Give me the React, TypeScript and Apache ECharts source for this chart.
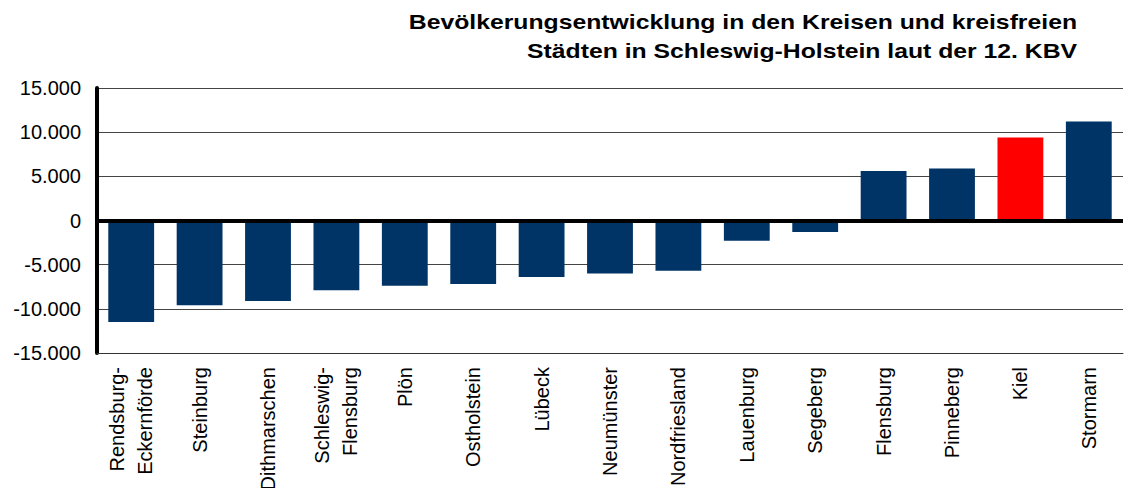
import React, { useEffect, useRef } from "react";
import * as echarts from "echarts";

const categories: string[] = [
  "Rendsburg-\nEckernförde",
  "Steinburg",
  "Dithmarschen",
  "Schleswig-\nFlensburg",
  "Plön",
  "Ostholstein",
  "Lübeck",
  "Neumünster",
  "Nordfriesland",
  "Lauenburg",
  "Segeberg",
  "Flensburg",
  "Pinneberg",
  "Kiel",
  "Stormarn",
];

const values: number[] = [
  -11500, -9600, -9100, -7900, -7400, -7200, -6400, -6000, -5700, -2300, -1300,
  5600, 5900, 9400, 11200,
];

const highlighted: string[] = ["Kiel"];

const titleLines: string[] = [
  "Bevölkerungsentwicklung in den Kreisen und kreisfreien",
  "Städten in Schleswig-Holstein laut der 12. KBV",
];

const BAR_COLOR = "#003366";
const HIGHLIGHT_COLOR = "#FF0000";

function formatDE(v: number): string {
  const neg = v < 0;
  const s = String(Math.abs(Math.round(v)));
  const parts: string[] = [];
  for (let i = s.length; i > 0; i -= 3) {
    parts.unshift(s.substring(Math.max(0, i - 3), i));
  }
  return (neg ? "-" : "") + parts.join(".");
}

export default function App() {
  const ref = useRef<HTMLDivElement>(null);

  useEffect(() => {
    if (!ref.current) return;
    const chart = echarts.init(ref.current, undefined, { renderer: "svg" });
    const font = "'Liberation Sans', Arial, Helvetica, sans-serif";

    chart.setOption({
      animation: false,
      backgroundColor: "#ffffff",
      textStyle: { fontFamily: font },
      graphic: titleLines.map((t, i) => ({
        type: "text",
        x: 1077,
        y: 22 + i * 29,
        scaleX: 1.27,
        style: {
          text: t,
          fontFamily: font,
          fontSize: 19.5,
          fontWeight: "bold",
          fill: "#000000",
          align: "right",
          verticalAlign: "middle",
        },
      })),
      grid: {
        left: 97,
        right: 8,
        top: 88,
        bottom: 135,
        containLabel: false,
        outerBoundsMode: "none",
      },
      xAxis: {
        type: "category",
        data: categories,
        axisLine: { show: true, onZero: false, lineStyle: { color: "#333", width: 1 } },
        axisTick: { show: false },
        axisLabel: {
          rotate: 90,
          interval: 0,
          margin: 14,
          fontSize: 20,
          lineHeight: 28,
          color: "#000",
          fontFamily: font,
        },
      },
      yAxis: {
        type: "value",
        min: -15000,
        max: 15000,
        interval: 5000,
        axisLine: { show: true, lineStyle: { color: "#000", width: 4, cap: "round" } },
        axisTick: { show: false },
        splitLine: { show: true, lineStyle: { color: "#444", width: 1 } },
        axisLabel: {
          formatter: (v: number) => formatDE(v),
          fontSize: 20,
          color: "#000",
          margin: 16,
          fontFamily: font,
        },
      },
      series: [
        {
          type: "bar",
          barCategoryGap: "33%",
          data: values.map((v, i) => ({
            value: v,
            itemStyle: {
              color: highlighted.includes(categories[i]) ? HIGHLIGHT_COLOR : BAR_COLOR,
            },
          })),
          markLine: {
            silent: true,
            symbol: "none",
            label: { show: false },
            lineStyle: { color: "#000", width: 4, type: "solid" },
            data: [{ yAxis: 0 }],
          },
        },
      ],
    });

    return () => chart.dispose();
  }, []);

  return (
    <div
      ref={ref}
      style={{ position: "fixed", left: 0, top: 0, width: 1131, height: 488, background: "#fff" }}
    />
  );
}
